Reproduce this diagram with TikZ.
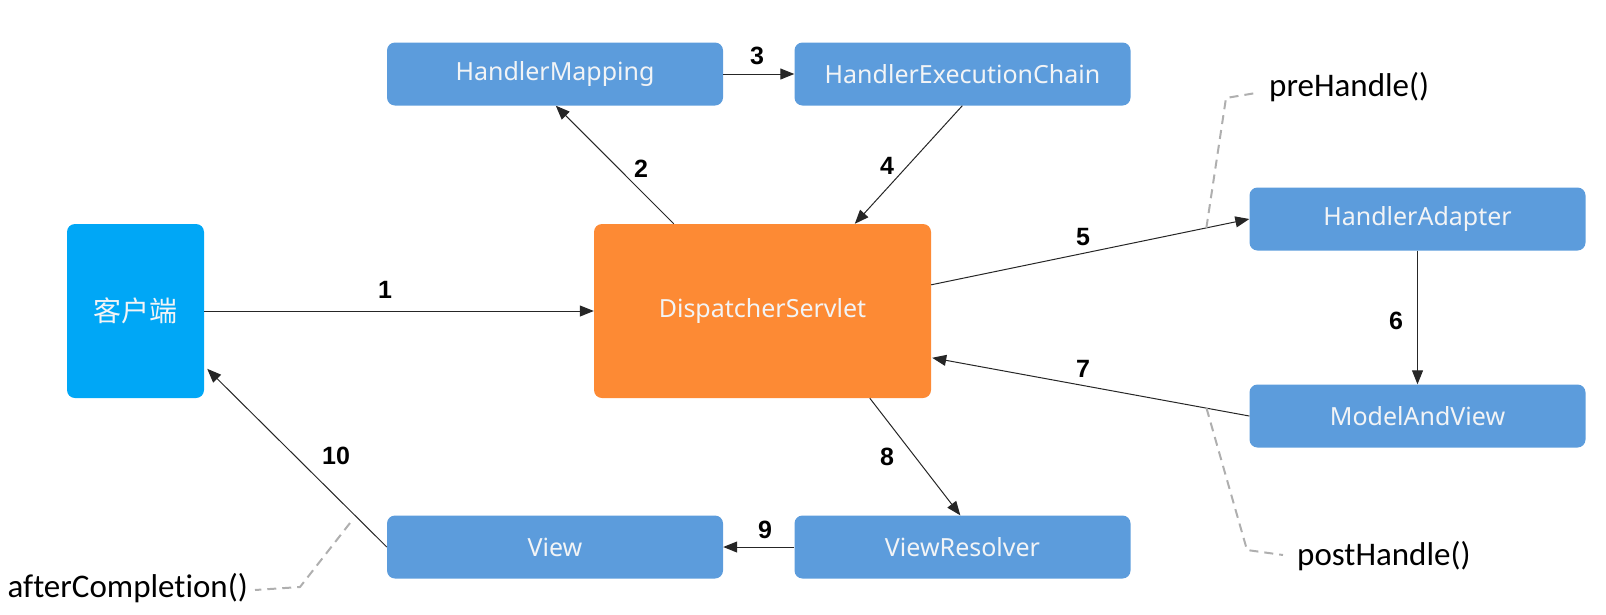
\documentclass[tikz,border=0pt]{standalone}
\usepackage{fontspec}
\setmainfont{Noto Sans}
\newfontfamily\cjk{Noto Sans CJK SC}
\newfontfamily\numfont{Liberation Sans}
\newfontfamily\lblfont[Ligatures=NoCommon]{Carlito}
\usetikzlibrary{arrows.meta,calc}
\definecolor{boxblue}{RGB}{92,156,220}
\definecolor{clientblue}{RGB}{0,167,246}
\definecolor{dsorange}{RGB}{253,138,52}
\definecolor{boxtext}{RGB}{242,244,246}
\definecolor{dashgrey}{RGB}{175,175,175}
\begin{document}
\begin{tikzpicture}[x=1pt,y=-1pt,
  box/.style={rounded corners=8pt, fill=boxblue, draw=none, inner sep=0pt,
    minimum width=336pt, minimum height=63pt, text=boxtext,
    font=\fontsize{25}{30}\selectfont},
  arr/.style={draw=black!85, line width=1pt, -{Triangle[length=14pt,width=11pt]}},
  num/.style={font=\numfont\bfseries\fontsize{25}{28}\selectfont, inner sep=0pt},
  lbl/.style={font=\lblfont\fontsize{33}{38}\selectfont, inner sep=0pt},
  dsh/.style={draw=dashgrey, line width=2pt, dash pattern=on 9pt off 6pt}]
\useasboundingbox (0,0) rectangle (1606,614);

% nodes
\node[box] (hm)   at (555,74)     {HandlerMapping};
\node[box] (hec)  at (962.5,74)   {HandlerExecutionChain};
\node[box] (ha)   at (1417.5,219) {HandlerAdapter};
\node[box] (mav)  at (1417.5,416) {ModelAndView};
\node[box] (view) at (555,547)    {View};
\node[box] (vr)   at (962.5,547)  {ViewResolver};
\node[box, fill=clientblue, minimum width=137pt, minimum height=174pt,
  font=\cjk\fontsize{28}{32}\selectfont] (client) at (135.5,311) {客户端};
\node[box, fill=dsorange, minimum width=337pt, minimum height=174pt] (disp) at (762.5,311) {DispatcherServlet};

% connectors
\draw[arr] (client.east) -- (disp.west);
\draw[arr] ($(disp.north west)+(80,0)$) -- ($(hm.south west)+(169,0)$);
\draw[arr] (hm.east) -- (hec.west);
\draw[arr] ($(hec.south west)+(168,0)$) -- ($(disp.north west)+(261,0)$);
\draw[arr] ($(disp.north east)+(0,61)$) -- coordinate[pos=0.865] (p5) (ha.west);
\draw[arr] (ha.south) -- (mav.north);
\draw[arr] (mav.west) -- coordinate[pos=0.135] (p7) ($(disp.north east)+(1,134)$);
\draw[arr] ($(disp.south west)+(276,0)$) -- ($(vr.north west)+(166,0)$);
\draw[arr] (vr.west) -- (view.east);
\draw[arr] (view.west) -- ($(client.north east)+(3,145)$);

% number labels
\node[num] (n1)  at (385,290) {1};
\node[num] (n2)  at (641,169) {2};
\node[num] (n3)  at (757,56)  {3};
\node[num] (n4)  at (887,166) {4};
\node[num] (n5)  at (1083,237) {5};
\node[num] (n6)  at (1396,321) {6};
\node[num] (n7)  at (1083,369) {7};
\node[num] (n8)  at (887,457) {8};
\node[num] (n9)  at (765,530) {9};
\node[num] (n10) at (336,456) {10};

% interceptor labels
\node[lbl, anchor=west] (pre)   at (1269,87)  {preHandle()};
\node[lbl, anchor=west] (post)  at (1297,556) {postHandle()};
\node[lbl, anchor=east] (after) at (248,588)  {afterCompletion()};
\coordinate (ac) at (350,523);

\draw[dsh] (p5) -- (1226,98) -- ($(pre.west)+(-13,6)$);
\draw[dsh] (p7) -- (1247,550) -- ($(post.west)+(-14,-1)$);
\draw[dsh] (ac) -- (300,587) -- ($(after.east)+(7,2)$);
\end{tikzpicture}
\end{document}
